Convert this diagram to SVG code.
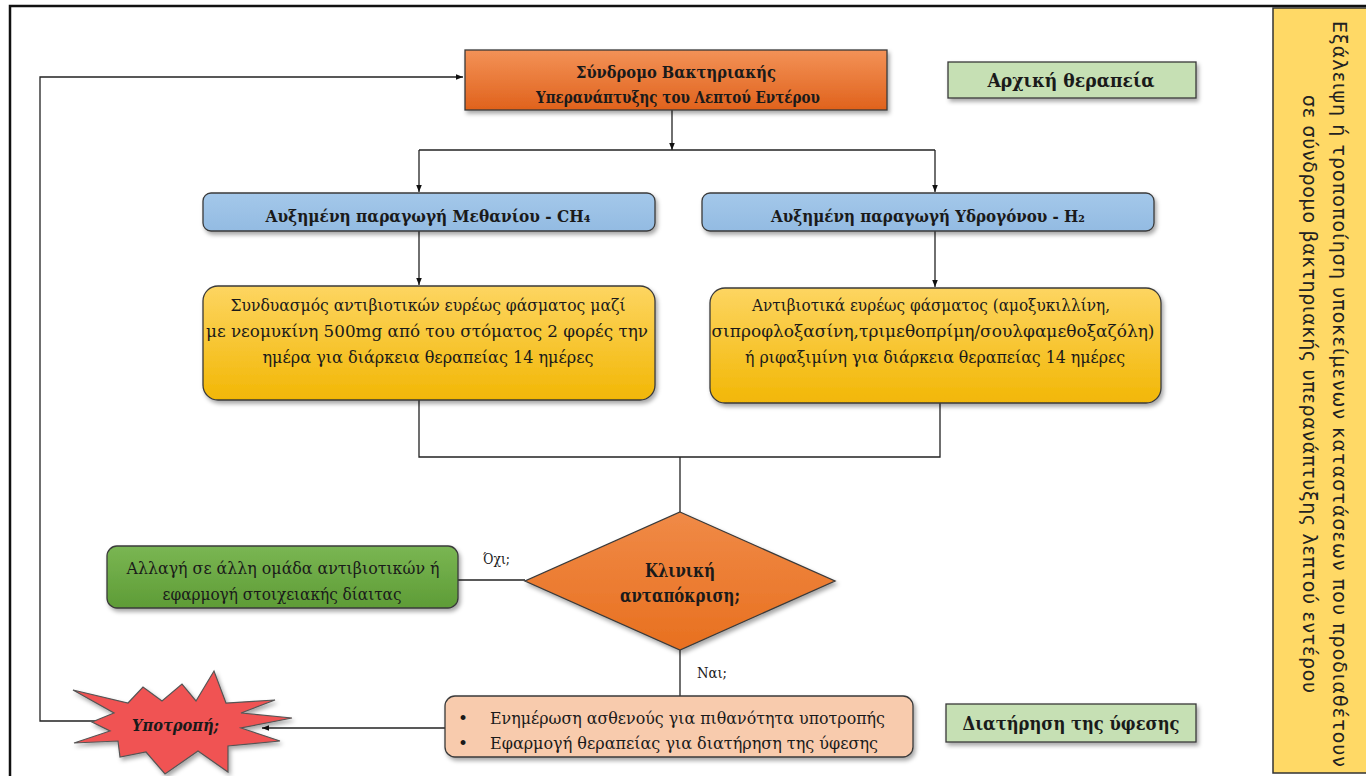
<svg xmlns="http://www.w3.org/2000/svg" width="1366" height="776" viewBox="0 0 1366 776">
<defs>
<style>
.t{font-family:"DejaVu Serif","Liberation Serif",serif;fill:#1a1a1a}
.b{font-weight:bold}
.c{text-anchor:middle}
.ln{fill:none;stroke:#222;stroke-width:1.3}
.box{stroke:#3a3a3a;stroke-width:1.3}
.v{font-family:"DejaVu Sans","Noto Sans",sans-serif;fill:#222;font-size:19px;text-anchor:middle}
</style>
<marker id="ah" viewBox="0 0 10 10" refX="10" refY="5" markerWidth="7" markerHeight="7" orient="auto" markerUnits="userSpaceOnUse">
<path d="M0,1 L10,5 L0,9 z" fill="#111"/>
</marker>
<filter id="sh" x="-10%" y="-10%" width="120%" height="130%">
<feDropShadow dx="2" dy="3" stdDeviation="2" flood-color="#000" flood-opacity="0.35"/>
</filter>
<linearGradient id="gOr" x1="0" y1="0" x2="0" y2="1">
<stop offset="0" stop-color="#f39257"/><stop offset="1" stop-color="#e0621c"/>
</linearGradient>
<linearGradient id="gDia" x1="0" y1="0" x2="0" y2="1">
<stop offset="0" stop-color="#f08a47"/><stop offset="1" stop-color="#e8701f"/>
</linearGradient>
<linearGradient id="gYe" x1="0" y1="0" x2="0" y2="1">
<stop offset="0" stop-color="#fdd561"/><stop offset="1" stop-color="#f2b705"/>
</linearGradient>
<linearGradient id="gGr" x1="0" y1="0" x2="0" y2="1">
<stop offset="0" stop-color="#7ab653"/><stop offset="1" stop-color="#5e9c36"/>
</linearGradient>
<linearGradient id="gBl" x1="0" y1="0" x2="0" y2="1">
<stop offset="0" stop-color="#a4c8ea"/><stop offset="1" stop-color="#93bbe2"/>
</linearGradient>
</defs>
<rect width="1366" height="776" fill="#fff"/>
<path d="M10,776 V6 H1366" fill="none" stroke="#111" stroke-width="2.5"/>

<g id="panel">
<rect x="1273" y="8" width="100" height="765" fill="#ffd966" stroke="#333" stroke-width="1.5"/>
<text class="v" transform="translate(1333,394) rotate(90)" x="0" y="0" textLength="746">Εξάλειψη ή τροποποίηση υποκείμενων καταστάσεων που προδιαθέτουν</text>
<text class="v" transform="translate(1303,394) rotate(90)" x="0" y="0" textLength="598">σε σύνδρομο βακτηριακής υπερανάπτυξης λεπτού εντέρου</text>
</g>

<g id="connectors">
<path class="ln" d="M100,721 H40 V77 H463" marker-end="url(#ah)"/>
<path class="ln" d="M672,110 V150" marker-end="url(#ah)"/>
<path class="ln" d="M419,150 H935"/>
<path class="ln" d="M419,150 V192" marker-end="url(#ah)"/>
<path class="ln" d="M935,150 V192" marker-end="url(#ah)"/>
<path class="ln" d="M419,231 V285" marker-end="url(#ah)"/>
<path class="ln" d="M935,231 V287" marker-end="url(#ah)"/>
<path class="ln" d="M419,400 V457 H940 V403"/>
<path class="ln" d="M680,457 V512"/>
<path class="ln" d="M458,580 H525"/>
<path class="ln" d="M680,650 V696"/>
<path class="ln" d="M445,728 H262" marker-end="url(#ah)"/>
<text class="t" x="483" y="564" font-size="14" textLength="27" lengthAdjust="spacingAndGlyphs">Όχι;</text>
<text class="t" x="697" y="678" font-size="14" textLength="30" lengthAdjust="spacingAndGlyphs">Ναι;</text>
</g>

<g id="start">
<rect class="box" x="465" y="50" width="422" height="60" fill="url(#gOr)" filter="url(#sh)"/>
<text class="t b c" x="676" y="78" font-size="17" textLength="200" lengthAdjust="spacingAndGlyphs">Σύνδρομο Βακτηριακής</text>
<text class="t b c" x="678" y="103" font-size="17" textLength="284" lengthAdjust="spacingAndGlyphs">Υπερανάπτυξης του Λεπτού Εντέρου</text>
</g>

<g id="label-initial">
<rect class="box" x="948" y="62" width="248" height="36" fill="#c6e0b4" filter="url(#sh)"/>
<text class="t b c" x="1071" y="87" font-size="19" textLength="167" lengthAdjust="spacingAndGlyphs">Αρχική θεραπεία</text>
</g>

<g id="methane">
<rect class="box" x="203" y="193" width="452" height="38" rx="8" fill="url(#gBl)" filter="url(#sh)"/>
<text class="t b c" x="428" y="222" font-size="17" textLength="325" lengthAdjust="spacingAndGlyphs">Αυξημένη παραγωγή Μεθανίου - CH₄</text>
</g>

<g id="hydrogen">
<rect class="box" x="702" y="193" width="452" height="38" rx="8" fill="url(#gBl)" filter="url(#sh)"/>
<text class="t b c" x="928" y="222" font-size="17" textLength="314" lengthAdjust="spacingAndGlyphs">Αυξημένη παραγωγή Υδρογόνου - H₂</text>
</g>

<g id="treat-methane">
<rect class="box" x="203" y="286" width="452" height="114" rx="15" fill="url(#gYe)" filter="url(#sh)"/>
<text class="t c" x="428" y="311" font-size="17" textLength="395" lengthAdjust="spacingAndGlyphs">Συνδυασμός αντιβιοτικών ευρέως φάσματος μαζί</text>
<text class="t c" x="427" y="337" font-size="17" textLength="442" lengthAdjust="spacingAndGlyphs">με νεομυκίνη 500mg από του στόματος 2 φορές την</text>
<text class="t c" x="428" y="363" font-size="17" textLength="331" lengthAdjust="spacingAndGlyphs">ημέρα για διάρκεια θεραπείας 14 ημέρες</text>
</g>

<g id="treat-hydrogen">
<rect class="box" x="710" y="288" width="451" height="115" rx="15" fill="url(#gYe)" filter="url(#sh)"/>
<text class="t c" x="931" y="311" font-size="17" textLength="358" lengthAdjust="spacingAndGlyphs">Αντιβιοτικά ευρέως φάσματος (αμοξυκιλλίνη,</text>
<text class="t c" x="933" y="337" font-size="17" textLength="443" lengthAdjust="spacingAndGlyphs">σιπροφλοξασίνη,τριμεθοπρίμη/σουλφαμεθοξαζόλη)</text>
<text class="t c" x="935" y="363" font-size="17" textLength="380" lengthAdjust="spacingAndGlyphs">ή ριφαξιμίνη για διάρκεια θεραπείας 14 ημέρες</text>
</g>

<g id="decision">
<polygon class="box" points="680,512 835,581 680,650 525,581" fill="url(#gDia)" filter="url(#sh)"/>
<text class="t b c" x="680" y="577" font-size="18" textLength="70" lengthAdjust="spacingAndGlyphs">Κλινική</text>
<text class="t b c" x="680" y="602" font-size="18" textLength="120" lengthAdjust="spacingAndGlyphs">ανταπόκριση;</text>
</g>

<g id="switch">
<rect class="box" x="107" y="546" width="351" height="62" rx="10" fill="url(#gGr)" filter="url(#sh)"/>
<text class="t c" x="283" y="574" font-size="17" textLength="313" lengthAdjust="spacingAndGlyphs">Αλλαγή σε άλλη ομάδα αντιβιοτικών ή</text>
<text class="t c" x="282" y="600" font-size="17" textLength="239" lengthAdjust="spacingAndGlyphs">εφαρμογή στοιχειακής δίαιτας</text>
</g>

<g id="maintenance">
<rect class="box" x="445" y="696" width="468" height="61" rx="10" fill="#f8cbad" filter="url(#sh)"/>
<text class="t" x="458" y="724" font-size="17">•</text>
<text class="t" x="490" y="724" font-size="17" textLength="395" lengthAdjust="spacingAndGlyphs">Ενημέρωση ασθενούς για πιθανότητα υποτροπής</text>
<text class="t" x="458" y="749" font-size="17">•</text>
<text class="t" x="490" y="749" font-size="17" textLength="388" lengthAdjust="spacingAndGlyphs">Εφαρμογή θεραπείας για διατήρηση της ύφεσης</text>
</g>

<g id="label-maint">
<rect class="box" x="946" y="704" width="250" height="38" fill="#c6e0b4" filter="url(#sh)"/>
<text class="t b c" x="1071" y="730" font-size="19" textLength="217" lengthAdjust="spacingAndGlyphs">Διατήρηση της ύφεσης</text>
</g>

<g id="relapse">
<polygon points="73,690 128,703 143,687 162,701 182,684 196,701 214,671 226,703 275,700 241,713 292,718 241,728 280,741 228,746 228,772 198,751 165,774 146,752 120,757 118,741 74,743 110,731 92,722 114,713" fill="#f05252" stroke="#555" stroke-width="1.2" filter="url(#sh)"/>
<text class="t b" x="132" y="731" font-size="17" font-style="italic" fill="#2a0a0a" textLength="87" lengthAdjust="spacingAndGlyphs">Υποτροπή;</text>
</g>
</svg>
